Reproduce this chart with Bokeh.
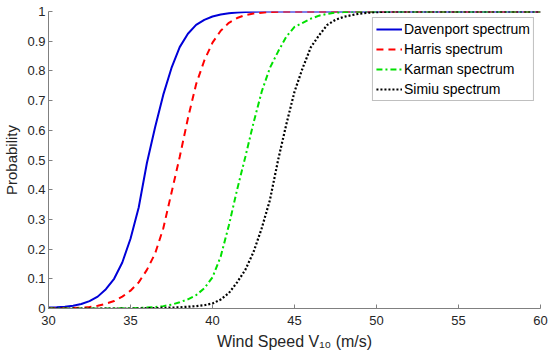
from bokeh.plotting import figure
from bokeh.embed import file_html
from bokeh.resources import INLINE
from bokeh.models import FixedTicker, CustomJSTickFormatter, Range1d, Legend, LegendItem

# ---- data ----
wind_speed = [30, 30.5, 31, 31.5, 32, 32.5, 33, 33.5, 34, 34.5, 35, 35.5, 36, 36.5, 37, 37.5,
              38, 38.5, 39, 39.5, 40, 40.5, 41, 41.5, 42, 42.5, 43, 43.5, 44, 44.5, 45, 45.5,
              46, 46.5, 47, 47.5, 48, 48.5, 49, 49.5, 50, 50.5, 51, 52, 55, 60]

davenport = [0.003, 0.004, 0.006, 0.009, 0.015, 0.025, 0.040, 0.065, 0.100, 0.155, 0.235, 0.34,
             0.49, 0.61, 0.72, 0.81, 0.88, 0.925, 0.955, 0.972, 0.983, 0.99, 0.994, 0.997,
             0.998, 0.999, 1, 1, 1, 1, 1, 1, 1, 1, 1, 1, 1, 1, 1, 1, 1, 1, 1, 1, 1, 1]

harris = [0.0005, 0.0007, 0.001, 0.002, 0.003, 0.005, 0.009, 0.016, 0.025, 0.040, 0.060, 0.088,
          0.13, 0.185, 0.27, 0.39, 0.51, 0.64, 0.755, 0.835, 0.895, 0.935, 0.962, 0.978,
          0.988, 0.993, 0.996, 0.998, 0.999, 1, 1, 1, 1, 1, 1, 1, 1, 1, 1, 1, 1, 1, 1, 1, 1, 1]

karman = [0, 0, 0, 0, 0, 0, 0, 0, 0.0005, 0.0008, 0.001, 0.002, 0.003, 0.005, 0.008, 0.013,
          0.021, 0.031, 0.045, 0.068, 0.105, 0.175, 0.28, 0.40, 0.51, 0.625, 0.73, 0.81,
          0.865, 0.915, 0.948, 0.962, 0.976, 0.986, 0.992, 0.996, 0.998, 0.999, 1, 1, 1, 1, 1, 1, 1, 1]

simiu = [0, 0, 0, 0, 0, 0, 0, 0, 0, 0, 0, 0, 0.001, 0.0015, 0.002, 0.003,
         0.004, 0.006, 0.008, 0.011, 0.017, 0.03, 0.052, 0.088, 0.13, 0.19, 0.27, 0.365,
         0.50, 0.62, 0.73, 0.81, 0.88, 0.92, 0.955, 0.972, 0.982, 0.988, 0.993, 0.996,
         0.998, 0.999, 1, 1, 1, 1]

series_names = ["Davenport spectrum", "Harris spectrum", "Karman spectrum", "Simiu spectrum"]
x_ticks = [30, 35, 40, 45, 50, 55, 60]
y_ticks = [0, 0.1, 0.2, 0.3, 0.4, 0.5, 0.6, 0.7, 0.8, 0.9, 1]

FONT = "Liberation Sans"
TICK_COLOR = "#262626"

p = figure(width=550, height=357, output_backend="svg", toolbar_location=None,
           x_range=Range1d(30, 60), y_range=Range1d(0, 1),
           min_border_left=42, min_border_right=10, min_border_top=11, min_border_bottom=49)
p.outline_line_color = None
p.grid.visible = False
p.background_fill_color = "white"

r1 = p.line(wind_speed, davenport, line_color="#0000D8", line_width=2)
r2 = p.line(wind_speed, harris, line_color="#FF0000", line_width=2, line_dash="7 5")
r3 = p.line(wind_speed, karman, line_color="#00E000", line_width=2, line_dash="6 3 2 3")
r4 = p.line(wind_speed, simiu, line_color="#000000", line_width=2.2, line_dash="2 2")

for ax in (p.xaxis[0], p.yaxis[0]):
    ax.axis_line_color = "#808080"
    ax.major_tick_line_color = "#808080"
    ax.major_tick_in = 4
    ax.major_tick_out = 0
    ax.minor_tick_line_color = None
    ax.major_label_text_font = FONT
    ax.major_label_text_font_size = "13px"
    ax.major_label_text_color = TICK_COLOR
    ax.axis_label_text_font = FONT
    ax.axis_label_text_font_size = "15px"
    ax.axis_label_text_font_style = "normal"
    ax.axis_label_text_color = TICK_COLOR

p.xaxis.axis_label_text_font_size = "16px"
p.xaxis.ticker = FixedTicker(ticks=x_ticks)
p.yaxis.ticker = FixedTicker(ticks=y_ticks)
p.yaxis.formatter = CustomJSTickFormatter(code="return String(+tick.toFixed(1));")
p.xaxis.major_label_standoff = 7
p.yaxis.major_label_standoff = 3
p.xaxis.axis_label = "Wind Speed V\u2081\u2080 (m/s)"
p.yaxis.axis_label = "Probability"
p.xaxis.axis_label_standoff = 5
p.yaxis.axis_label_standoff = 4

legend = Legend(items=[LegendItem(label=n, renderers=[r]) for n, r in zip(series_names, [r1, r2, r3, r4])],
                location="top_right")
legend.label_text_font = FONT
legend.label_text_font_size = "14px"
legend.label_text_color = "#000000"
legend.border_line_color = "#808080"
legend.border_line_width = 1
legend.glyph_width = 26
legend.glyph_height = 14
legend.label_standoff = 2
legend.spacing = 4
legend.padding = 3
legend.margin = 6
legend.label_height = 15
p.add_layout(legend)

open("out.html", "w").write(file_html(p, INLINE))
